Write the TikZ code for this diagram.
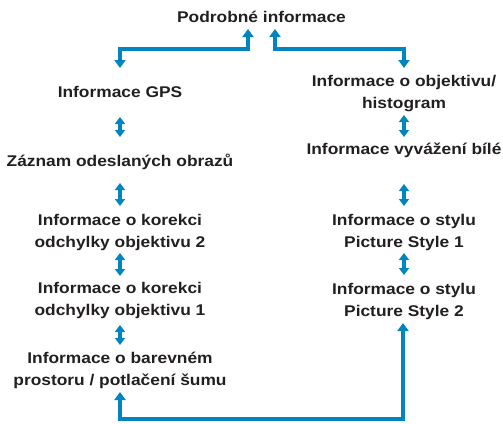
\documentclass[tikz,border=0pt]{standalone}
\usepackage{fontspec}
\setmainfont[FakeStretch=1.12]{Liberation Sans}
\usetikzlibrary{arrows.meta}
\definecolor{cblue}{RGB}{0,133,193}
\definecolor{ctext}{RGB}{35,31,32}
\begin{document}
\begin{tikzpicture}[x=1pt,y=-1pt,
  lbl/.style={font=\bfseries\fontsize{15.5}{21.5}\selectfont, text=ctext, inner sep=0pt, anchor=base, align=center},
  conn/.style={draw=cblue, line width=4pt, {Triangle[width=11pt,length=8pt]}-{Triangle[width=11pt,length=8pt]}},
  dbl/.style={draw=cblue, line width=3.5pt, {Triangle[width=10pt,length=7pt]}-{Triangle[width=10pt,length=7pt]}}]
\useasboundingbox (0,0) rectangle (503,423);
% (base anchor of a two-line node = baseline of its last line)
\node[lbl] (title) at (261.5,22) {Podrobné informace};
\node[lbl] (gps) at (120,97) {Informace GPS};
\node[lbl] (zaz) at (120,166) {Záznam odeslaných obrazů};
\node[lbl] (kor2) at (120,247) {Informace o korekci\\odchylky objektivu 2};
\node[lbl] (kor1) at (120,315) {Informace o korekci\\odchylky objektivu 1};
\node[lbl] (bar) at (120,385) {Informace o barevném\\prostoru / potlačení šumu};
\node[lbl] (obj) at (404,108) {Informace o objektivu/\\histogram};
\node[lbl] (wb) at (404,154) {Informace vyvážení bílé};
\node[lbl] (ps1) at (404,247) {Informace o stylu\\Picture Style 1};
\node[lbl] (ps2) at (404,316) {Informace o stylu\\Picture Style 2};
% vertical double arrows
\draw[dbl, shorten <=20pt, shorten >=29pt] (gps.base) -- (zaz.base);
\draw[dbl, shorten <=17pt, shorten >=41pt] (zaz.base) -- (kor2.base);
\draw[dbl, shorten <=6pt, shorten >=39pt] (kor2.base) -- (kor1.base);
\draw[dbl, shorten <=10pt, shorten >=40pt] (kor1.base) -- (bar.base);
\draw[dbl, shorten <=7pt, shorten >=17pt] (obj.base) -- (wb.base);
\draw[dbl, shorten <=30pt, shorten >=41pt] (wb.base) -- (ps1.base);
\draw[dbl, shorten <=6pt, shorten >=41pt] (ps1.base) -- (ps2.base);
% loop connectors
\draw[conn] ([xshift=-13.5pt,yshift=-7pt]title.base) -- ++(0,20) -| ([yshift=29pt]gps.base);
\draw[conn] ([xshift=13.5pt,yshift=-7pt]title.base) -- ++(0,20) -| ([yshift=40pt]obj.base);
\draw[conn] ([yshift=-7pt]bar.base) -- ++(0,27) -| ([xshift=-1pt,yshift=-7pt]ps2.base);
\end{tikzpicture}
\end{document}
